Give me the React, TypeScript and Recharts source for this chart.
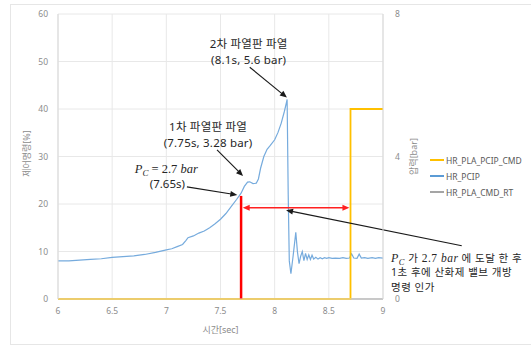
import React from 'react';
import { LineChart, Line, XAxis, YAxis, CartesianGrid, ReferenceLine, ReferenceDot } from 'recharts';

// HR_PCIP pressure [bar]
const pcipTime = [6.0, 6.1, 6.2, 6.3, 6.4, 6.5, 6.6, 6.7, 6.8, 6.9, 7.0, 7.05, 7.1, 7.15, 7.18, 7.2, 7.25, 7.3, 7.35, 7.4, 7.45, 7.5, 7.55, 7.6, 7.65, 7.69, 7.72, 7.75, 7.77, 7.8, 7.83, 7.85, 7.87, 7.9, 7.93, 7.96, 8.0, 8.03, 8.06, 8.09, 8.11, 8.115, 8.125, 8.135, 8.15, 8.17, 8.195, 8.21, 8.225, 8.24, 8.255, 8.27, 8.285, 8.3, 8.315, 8.33, 8.345, 8.36, 8.38, 8.4, 8.42, 8.44, 8.46, 8.48, 8.5, 8.53, 8.56, 8.6, 8.63, 8.66, 8.69, 8.71, 8.73, 8.76, 8.78, 8.8, 8.83, 8.86, 8.9, 8.93, 8.96, 9.0];
const pcipBar = [1.07, 1.07, 1.09, 1.11, 1.13, 1.17, 1.19, 1.21, 1.25, 1.31, 1.38, 1.41, 1.47, 1.53, 1.64, 1.72, 1.77, 1.85, 1.91, 2.0, 2.11, 2.24, 2.4, 2.6, 2.8, 2.97, 3.16, 3.28, 3.29, 3.24, 3.25, 3.37, 3.67, 4.0, 4.2, 4.31, 4.47, 4.67, 4.93, 5.27, 5.53, 5.6, 2.93, 1.07, 0.71, 1.2, 1.87, 1.33, 0.99, 1.2, 1.33, 1.08, 1.28, 1.11, 1.24, 1.11, 1.23, 1.12, 1.17, 1.12, 1.16, 1.13, 1.16, 1.14, 1.16, 1.14, 1.15, 1.14, 1.16, 1.14, 1.15, 1.27, 1.15, 1.14, 1.26, 1.15, 1.16, 1.14, 1.16, 1.14, 1.16, 1.15];

// HR_PLA_PCIP_CMD [%]
const cmdTime = [6, 8.7, 8.7, 9];
const cmdVal = [0, 0, 40, 40];

// HR_PLA_CMD_RT [%]
const rtTime = [6, 9];
const rtVal = [0, 0];

const xTicks = [6, 6.5, 7, 7.5, 8, 8.5, 9];
const leftTicks = [0, 10, 20, 30, 40, 50, 60];
const rightTicks = [0, 4, 8];

const pcipData = pcipTime.map((t, i) => ({ t, v: pcipBar[i] }));
const cmdData = cmdTime.map((t, i) => ({ t, v: cmdVal[i] }));
const rtData = rtTime.map((t, i) => ({ t, v: rtVal[i] }));

const TICK_FONT = { fontSize: 8.5, fill: '#8c8c8c', fontFamily: 'Noto Sans, Noto Sans CJK KR' };
const KR = "'Noto Sans', 'Noto Sans CJK KR'";
const MATH = "'Liberation Serif', 'DejaVu Serif'";

const arrowShape = (color: string, width: number, both = false) => (p: any) => {
  const { x1, y1, x2, y2 } = p;
  const a = Math.atan2(y2 - y1, x2 - x1);
  const L = 7, W = 3;
  const head = (x: number, y: number, ang: number) => {
    const bx = x - L * Math.cos(ang), by = y - L * Math.sin(ang);
    return `${x},${y} ${bx + W * Math.sin(ang)},${by - W * Math.cos(ang)} ${bx - W * Math.sin(ang)},${by + W * Math.cos(ang)}`;
  };
  const sx = both ? x1 + (L - 1) * Math.cos(a) : x1;
  const sy = both ? y1 + (L - 1) * Math.sin(a) : y1;
  const ex = x2 - (L - 1) * Math.cos(a), ey = y2 - (L - 1) * Math.sin(a);
  return (
    <g>
      <line x1={sx} y1={sy} x2={ex} y2={ey} stroke={color} strokeWidth={width} />
      <polygon points={head(x2, y2, a)} fill={color} />
      {both && <polygon points={head(x1, y1, a + Math.PI)} fill={color} />}
    </g>
  );
};

const textShape = (lines: string[]) => (p: any) => (
  <g>
    {lines.map((l, i) => (
      <text key={i} x={p.cx} y={p.cy - 0.5 + i * 16} textAnchor="middle" fontSize={11.5} letterSpacing={0.2} fill="#262626" fontFamily={KR}>{l}</text>
    ))}
  </g>
);

const pcShape = (p: any) => (
  <g>
    <text x={p.cx} y={p.cy} textAnchor="middle" fontSize={12.5} fill="#262626" fontFamily={MATH}>
      <tspan fontStyle="italic">P</tspan>
      <tspan fontStyle="italic" fontSize={9} dy={3}>C</tspan>
      <tspan dy={-3}> = 2.7 </tspan>
      <tspan fontStyle="italic">bar</tspan>
    </text>
    <text x={p.cx + 1} y={p.cy + 15} textAnchor="middle" fontSize={11.5} fill="#262626" fontFamily={KR}>(7.65s)</text>
  </g>
);

const noteShape = (p: any) => (
  <g fill="#262626">
    <text x={p.cx} y={p.cy} fontSize={10.5} letterSpacing={0.5} fontFamily={KR}>
      <tspan fontFamily={MATH} fontStyle="italic" fontSize={12}>P</tspan>
      <tspan fontFamily={MATH} fontStyle="italic" fontSize={8.5} dy={3}>C</tspan>
      <tspan dy={-3}> 가 </tspan>
      <tspan fontFamily={MATH} fontSize={11.5}>2.7 </tspan>
      <tspan fontFamily={MATH} fontStyle="italic" fontSize={11.5}>bar</tspan>
      <tspan> 에 도달 한 후</tspan>
    </text>
    <text x={p.cx} y={p.cy + 14.5} fontSize={10.5} letterSpacing={0.5} fontFamily={KR}>1초 후에 산화제 밸브 개방</text>
    <text x={p.cx} y={p.cy + 29} fontSize={10.5} letterSpacing={0.5} fontFamily={KR}>명령 인가</text>
  </g>
);

const legendItems = [
  { name: 'HR_PLA_PCIP_CMD', color: '#ffc000' },
  { name: 'HR_PCIP', color: '#5b9bd5' },
  { name: 'HR_PLA_CMD_RT', color: '#a5a5a5' },
];

export default function App() {
  return (
    <div style={{ position: 'absolute', left: 0, top: 0, width: 531, height: 347, background: '#fff' }}>
      <div style={{ position: 'absolute', left: 10, top: 4, width: 530, height: 341, border: '1px solid #e6e6e6', boxSizing: 'border-box' }} />
      <LineChart width={531} height={347} margin={{ top: 14, right: 108, bottom: 8, left: 18 }}>
        <CartesianGrid yAxisId="left" stroke="#e8e8e8" strokeWidth={1} />
        <XAxis
          type="number"
          dataKey="t"
          domain={[6, 9]}
          ticks={xTicks}
          allowDuplicatedCategory={false}
          height={40}
          tickSize={0}
          tickMargin={9}
          tick={TICK_FONT}
          stroke="#d9d9d9"
          label={(props: any) => {
            const vb = props.viewBox;
            return (
              <text x={vb.x + vb.width / 2} y={vb.y + 34} textAnchor="middle" fontSize={9} fill="#8c8c8c" fontFamily={KR}>시간[sec]</text>
            );
          }}
        />
        <YAxis
          yAxisId="left"
          domain={[0, 60]}
          ticks={leftTicks}
          width={40}
          tickSize={0}
          tickMargin={10}
          tick={TICK_FONT}
          stroke="#d9d9d9"
          label={(props: any) => {
            const vb = props.viewBox;
            const cx = vb.x + 8.5, cy = vb.y + vb.height / 2 - 3;
            return (
              <text x={cx} y={cy} transform={`rotate(-90 ${cx} ${cy})`} textAnchor="middle" dominantBaseline="central" fontSize={9} fill="#8c8c8c" fontFamily={KR}>제어명령[%]</text>
            );
          }}
        />
        <YAxis
          yAxisId="right"
          orientation="right"
          domain={[0, 8]}
          ticks={rightTicks}
          width={40}
          tickSize={0}
          tickMargin={12}
          tick={TICK_FONT}
          stroke="#d9d9d9"
          label={(props: any) => {
            const vb = props.viewBox;
            const cx = vb.x + 30, cy = vb.y + vb.height / 2;
            return (
              <text x={cx} y={cy} transform={`rotate(-90 ${cx} ${cy})`} textAnchor="middle" dominantBaseline="central" fontSize={9} fill="#8c8c8c" fontFamily={KR}>압력[bar]</text>
            );
          }}
        />
        <Line yAxisId="left" data={rtData} dataKey="v" stroke="#a5a5a5" strokeWidth={1.5} dot={false} isAnimationActive={false} />
        <Line yAxisId="right" data={pcipData} dataKey="v" stroke="#76abdd" strokeWidth={1.2} dot={false} isAnimationActive={false} />
        <Line yAxisId="left" data={cmdData} dataKey="v" stroke="#ffc000" strokeWidth={1.8} dot={false} isAnimationActive={false} />

        <ReferenceLine yAxisId="left" ifOverflow="visible" segment={[{ x: 7.69, y: 0 }, { x: 7.69, y: 21.7 }]} stroke="#ff0000" strokeWidth={2.5} />
        <ReferenceLine yAxisId="left" ifOverflow="visible" segment={[{ x: 7.705, y: 19.2 }, { x: 8.69, y: 19.2 }]} shape={arrowShape('#ff2020', 1.6, true)} />
        <ReferenceLine yAxisId="left" ifOverflow="visible" segment={[{ x: 7.77, y: 48.8 }, { x: 8.113, y: 42.4 }]} shape={arrowShape('#1a1a1a', 1.1)} />
        <ReferenceLine yAxisId="left" ifOverflow="visible" segment={[{ x: 7.468, y: 31.4 }, { x: 7.708, y: 25.9 }]} shape={arrowShape('#1a1a1a', 1.1)} />
        <ReferenceLine yAxisId="left" ifOverflow="visible" segment={[{ x: 7.19, y: 23.6 }, { x: 7.655, y: 21.9 }]} shape={arrowShape('#1a1a1a', 1.1)} />
        <ReferenceLine yAxisId="left" ifOverflow="visible" segment={[{ x: 9.727, y: 11.2 }, { x: 8.105, y: 18.7 }]} shape={arrowShape('#1a1a1a', 1.1)} />

        <ReferenceDot yAxisId="left" ifOverflow="visible" x={7.76} y={52.7} r={1} shape={textShape(['2차 파열판 파열', '(8.1s, 5.6 bar)'])} />
        <ReferenceDot yAxisId="left" ifOverflow="visible" x={7.385} y={35.2} r={1} shape={textShape(['1차 파열판 파열', '(7.75s, 3.28 bar)'])} />
        <ReferenceDot yAxisId="left" ifOverflow="visible" x={7.0} y={26.6} r={1} shape={pcShape} />
        <ReferenceDot yAxisId="left" ifOverflow="visible" x={9.074} y={7.8} r={1} shape={noteShape} />
      </LineChart>
      <div style={{ position: 'absolute', left: 430, top: 152, fontFamily: 'Noto Sans, Noto Sans CJK KR', fontSize: 8.5, color: '#595959' }}>
        {legendItems.map((it) => (
          <div key={it.name} style={{ display: 'flex', alignItems: 'center', height: 16 }}>
            <span style={{ display: 'inline-block', width: 14, height: 1.5, background: it.color, marginRight: 2 }} />
            <span>{it.name}</span>
          </div>
        ))}
      </div>
    </div>
  );
}
